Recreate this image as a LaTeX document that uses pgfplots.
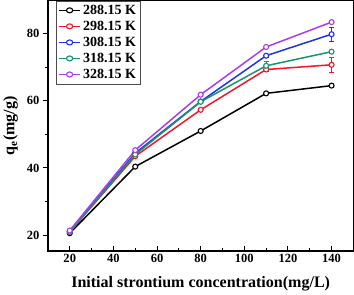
\documentclass[border=0pt]{standalone}
\usepackage{fontspec}
\setmainfont{Liberation Serif}
\usepackage{pgfplots}
\pgfplotsset{compat=1.18}
\definecolor{c1}{RGB}{0,0,0}
\definecolor{c2}{RGB}{250,20,40}
\definecolor{c3}{RGB}{30,50,240}
\definecolor{c4}{RGB}{20,150,110}
\definecolor{c5}{RGB}{170,60,240}
\begin{document}
\begin{tikzpicture}
\begin{axis}[
  scale only axis, width=305pt, height=250pt,
  xmin=10, xmax=150, ymin=15.3, ymax=89.8,
  xtick={20,40,...,140}, ytick={20,40,60,80},
  minor xtick={30,50,...,130}, minor ytick={30,50,70},
  tick style={black, line width=1pt},
  major tick length=5pt, minor tick length=3pt,
  xtick align=inside, ytick align=outside,
  xtick pos=bottom, ytick pos=left,
  axis line style={line width=1.2pt},
  /pgf/number format/assume math mode=true,
  tick label style={font=\fontsize{12.5}{14}\selectfont\bfseries},
  xlabel={Initial strontium concentration(mg/L)},
  ylabel={q\textsubscript{e}(mg/g)},
  label style={font=\fontsize{16}{18}\selectfont\bfseries},
  xlabel style={yshift=-7pt},
  ylabel style={yshift=2pt},
  legend style={at={(0.026,1)}, anchor=north west, draw=black!70, line width=0.6pt,
    font=\fontsize{14}{15}\selectfont\bfseries, row sep=1.2pt, inner sep=2pt},
  legend cell align=left,
  legend image post style={xscale=1.25},
  every axis plot/.append style={line width=1.5pt, mark=*, mark size=2.5pt,
     mark options={fill=white, line width=1.1pt}},
]
\addplot[c1] coordinates {(20,20.6) (50,40.4) (80,51.0) (110,62.2) (140,64.5)};
\addlegendentry{288.15 K}
\addplot[c2, error bars/.cd, y dir=both, y explicit, error bar style={line width=0.8pt}, error mark options={rotate=90, mark size=2.5pt, line width=0.8pt}]
  coordinates {(20,21.0) +- (0,0.3) (50,43.5) +- (0,0.5) (80,57.3) +- (0,0.4) (110,69.3) +- (0,0.6) (140,70.7) +- (0,2.3)};
\addlegendentry{298.15 K}
\addplot[c3, error bars/.cd, y dir=both, y explicit, error bar style={line width=0.8pt}, error mark options={rotate=90, mark size=2.5pt, line width=0.8pt}]
  coordinates {(20,21.1) +- (0,0.3) (50,44.4) +- (0,0.5) (80,59.8) +- (0,0.4) (110,73.4) +- (0,0.5) (140,79.8) +- (0,2.0)};
\addlegendentry{308.15 K}
\addplot[c4, error bars/.cd, y dir=both, y explicit, error bar style={line width=0.8pt}, error mark options={rotate=90, mark size=2.5pt, line width=0.8pt}]
  coordinates {(20,21.0) +- (0,0.3) (50,44.0) +- (0,0.5) (80,59.7) +- (0,0.4) (110,70.4) +- (0,1.4) (140,74.6) +- (0,0.4)};
\addlegendentry{318.15 K}
\addplot[c5] coordinates {(20,21.4) (50,45.3) (80,61.8) (110,76.0) (140,83.4)};
\addlegendentry{328.15 K}
\end{axis}
\end{tikzpicture}
\end{document}
